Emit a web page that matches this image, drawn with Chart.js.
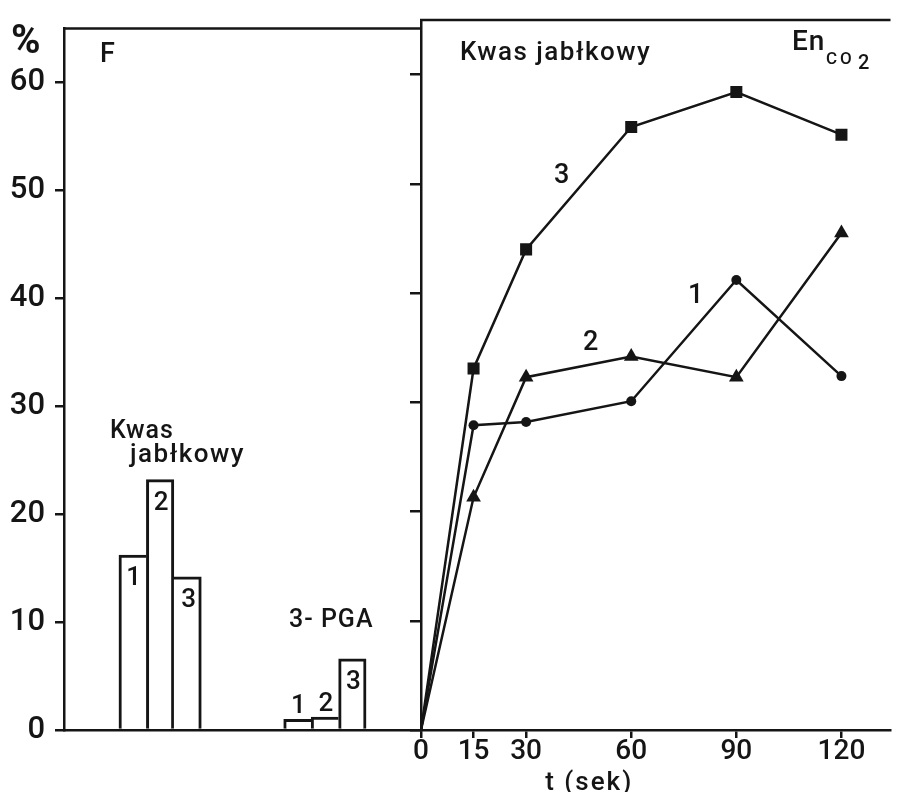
<!DOCTYPE html>
<html>
<head>
<meta charset="utf-8">
<style>
  html, body { margin: 0; padding: 0; background: #fff; }
  #wrap { position: relative; width: 899px; height: 792px; overflow: hidden; background: #fff; }
  #left { position: absolute; left: 0; top: 0; }
  #right { position: absolute; left: 380px; top: 0; }
</style>
<script src="https://cdn.jsdelivr.net/npm/chart.js@4.4.1/dist/chart.umd.min.js"></script>
</head>
<body>
<div id="wrap">
  <canvas id="left" width="440" height="792"></canvas>
  <canvas id="right" width="519" height="792"></canvas>
</div>
<script>
// Dane (F: udział % znacznika)
const yTicks = [0, 10, 20, 30, 40, 50, 60];

// panel lewy - słupki
const kwasLabels = ['1', '2', '3'];
const kwasValues = [16.2, 23.2, 14.2];
const pgaLabels = ['1', '2', '3'];
const pgaValues = [1.0, 1.2, 6.6];

// panel prawy - kwas jabłkowy w czasie
const times = [0, 15, 30, 60, 90, 120];
const series1 = [0, 27.9, 28.2, 30.1, 41.2, 32.4];   // kółka
const series2 = [0, 21.3, 32.3, 34.2, 32.3, 45.5];   // trójkąty
const series3 = [0, 33.1, 44.0, 55.2, 58.4, 54.5];   // kwadraty

const INK = '#151515';
const FONT = 'Roboto, "Liberation Sans", Arial, sans-serif';
const TOP = 20;
const BOTTOM = 730;
const YMAX = 65;
const BW = 3;

// 13 miejsc na osi kategorii: grupa kwasu na 2..4, 3-PGA na 8..10
const slotLabels = [];
const slotValues = [];
const slotNames = [];
for (let i = 0; i < 13; i++) { slotLabels.push(String(i)); slotValues.push(null); slotNames.push(''); }
kwasValues.forEach((v, i) => { slotValues[2 + i] = v; slotNames[2 + i] = kwasLabels[i]; });
pgaValues.forEach((v, i) => { slotValues[8 + i] = v; slotNames[8 + i] = pgaLabels[i]; });

function text(ctx, str, x, y, size, opts = {}) {
    ctx.save();
    ctx.font = (opts.weight || 500) + ' ' + size + 'px ' + FONT;
    ctx.fillStyle = INK;
    ctx.textAlign = opts.align || 'left';
    ctx.textBaseline = 'alphabetic';
    ctx.letterSpacing = (opts.ls || 0) + 'px';
    ctx.fillText(str, x, y);
    ctx.restore();
}

function topLine(chart) {
    const { ctx, chartArea } = chart;
    ctx.save();
    ctx.strokeStyle = INK;
    ctx.lineWidth = 2.5;
    ctx.beginPath();
    ctx.moveTo(chartArea.left - 1, chartArea.top);
    ctx.lineTo(chartArea.right, chartArea.top);
    ctx.stroke();
    ctx.restore();
}

const leftDecor = {
    id: 'leftDecor',
    afterDraw(chart) {
        const ctx = chart.ctx;
        topLine(chart);
        text(ctx, '%', 11, 53, 40, { weight: 700 });
        text(ctx, 'F', 100, 62, 27);
        text(ctx, 'Kwas', 110, 438, 25, { ls: 1 });
        text(ctx, 'jabłkowy', 130, 462, 26, { ls: 1.5 });
        text(ctx, '3- PGA', 289, 627, 25, { ls: 1 });
        // numery przy słupkach
        const meta = chart.getDatasetMeta(0);
        meta.data.forEach((bar, i) => {
            if (slotValues[i] == null) return;
            const h = bar.base - bar.y;
            const y = h > 30 ? bar.y + 30 : bar.y - 6;
            text(ctx, slotNames[i], bar.x + 1, y, 26, { align: 'center' });
        });
    }
};

const rightDecor = {
    id: 'rightDecor',
    afterDraw(chart) {
        const ctx = chart.ctx;
        topLine(chart);
        text(ctx, 'Kwas jabłkowy', 80, 60, 26, { ls: 1.5 });
        text(ctx, 'En', 412, 50, 28, { ls: 1 });
        text(ctx, 'CO', 446, 64, 17, { ls: 3 });
        text(ctx, '2', 478, 69, 20);
        text(ctx, '3', 174, 183, 27);
        text(ctx, '2', 203, 350, 27);
        text(ctx, '1', 308, 303, 27);
        const xs = chart.scales.x;
        text(ctx, 't (sek)', xs.getPixelForValue(48), 790, 26, { align: 'center', ls: 2 });
    }
};

new Chart(document.getElementById('left'), {
    type: 'bar',
    data: {
        labels: slotLabels,
        datasets: [{
            data: slotValues,
            backgroundColor: '#fff',
            borderColor: INK,
            borderSkipped: false,
            // wspólne krawędzie rysuje tylko wyższy słupek
            borderWidth: (c) => {
                const i = c.dataIndex;
                const v = slotValues[i];
                const prev = slotValues[i - 1];
                const next = slotValues[i + 1];
                return {
                    top: BW,
                    bottom: 0,
                    left: (prev == null || prev <= v) ? BW : 0,
                    right: (next == null || next < v) ? BW : 0
                };
            },
            barPercentage: 1,
            categoryPercentage: 1
        }]
    },
    options: {
        responsive: false,
        animation: false,
        layout: { padding: { left: 0, top: TOP, right: 440 - 421, bottom: 792 - BOTTOM } },
        plugins: { legend: { display: false }, tooltip: { enabled: false } },
        scales: {
            x: {
                grid: { display: false },
                ticks: { display: false },
                border: { display: true, color: INK, width: 2.5 },
                afterFit: (s) => { s.height = 0; }
            },
            y: {
                min: 0,
                max: YMAX,
                afterBuildTicks: (s) => { s.ticks = yTicks.map(v => ({ value: v })); },
                ticks: { color: INK, font: { family: FONT, size: 31, weight: 500 }, padding: 10 },
                grid: { drawOnChartArea: false, drawTicks: true, tickLength: 9, color: INK, lineWidth: 2.5 },
                border: { color: INK, width: 2.5 },
                afterFit: (s) => { s.width = 64; }
            }
        }
    },
    plugins: [leftDecor]
});

function lineSet(values, style, radius) {
    return {
        data: times.map((t, i) => ({ x: t, y: values[i] })),
        borderColor: INK,
        backgroundColor: INK,
        borderWidth: 2.5,
        tension: 0,
        pointStyle: style,
        pointRadius: (c) => c.dataIndex === 0 ? 0 : radius,
        pointBorderWidth: 0,
        pointBackgroundColor: INK
    };
}

new Chart(document.getElementById('right'), {
    type: 'line',
    data: {
        datasets: [
            lineSet(series1, 'circle', 5),
            lineSet(series2, 'triangle', 8.5),
            lineSet(series3, 'rect', 8.5)
        ]
    },
    options: {
        responsive: false,
        animation: false,
        layout: { padding: { left: 0, top: TOP, right: 0, bottom: 0 } },
        plugins: { legend: { display: false }, tooltip: { enabled: false } },
        scales: {
            x: {
                type: 'linear',
                min: 0,
                max: 134,
                afterBuildTicks: (s) => { s.ticks = times.map(v => ({ value: v })); },
                ticks: { color: INK, font: { family: FONT, size: 28, weight: 500 }, padding: -3, maxRotation: 0, autoSkip: false },
                grid: { drawOnChartArea: false, drawTicks: true, tickLength: 8, color: INK, lineWidth: 2.5 },
                border: { color: INK, width: 2.5 },
                afterFit: (s) => { s.height = 792 - BOTTOM; }
            },
            y: {
                min: 0,
                max: YMAX,
                afterBuildTicks: (s) => { s.ticks = yTicks.map(v => ({ value: v })); },
                ticks: { display: false },
                grid: { drawOnChartArea: false, drawTicks: true, tickLength: 11, color: INK, lineWidth: 2.5 },
                border: { color: INK, width: 2.5 },
                afterFit: (s) => { s.width = 41; }
            }
        }
    },
    plugins: [rightDecor]
});
</script>
</body>
</html>
